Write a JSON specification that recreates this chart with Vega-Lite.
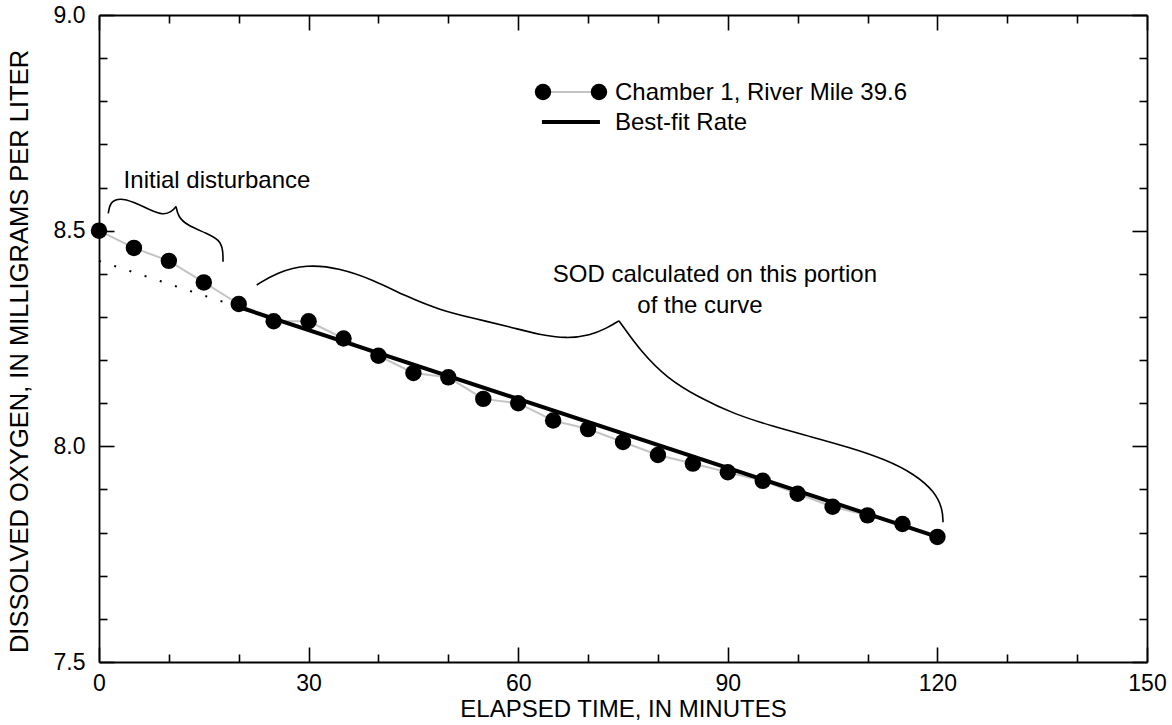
{
  "$schema": "https://vega.github.io/schema/vega-lite/v6.json",
  "width": 1048,
  "height": 647,
  "autosize": "none",
  "padding": {"left": 99, "top": 15, "right": 25, "bottom": 63},
  "config": {
    "font": "Liberation Sans",
    "view": {"stroke": null},
    "axis": {
      "grid": false,
      "domainColor": "black",
      "domainWidth": 1.8,
      "tickColor": "black",
      "tickWidth": 1.6,
      "labelColor": "black",
      "labelFontSize": 23,
      "labelFont": "Liberation Sans",
      "titleFont": "Liberation Sans",
      "titleColor": "black",
      "titleFontSize": 24,
      "titleFontWeight": "normal",
      "labelFlush": false,
      "labelOverlap": false
    }
  },
  "datasets": {
    "obs": [
      {"t": 0, "do": 8.50}, {"t": 5, "do": 8.46}, {"t": 10, "do": 8.43}, {"t": 15, "do": 8.38},
      {"t": 20, "do": 8.33}, {"t": 25, "do": 8.29}, {"t": 30, "do": 8.29}, {"t": 35, "do": 8.25},
      {"t": 40, "do": 8.21}, {"t": 45, "do": 8.17}, {"t": 50, "do": 8.16}, {"t": 55, "do": 8.11},
      {"t": 60, "do": 8.10}, {"t": 65, "do": 8.06}, {"t": 70, "do": 8.04}, {"t": 75, "do": 8.01},
      {"t": 80, "do": 7.98}, {"t": 85, "do": 7.96}, {"t": 90, "do": 7.94}, {"t": 95, "do": 7.92},
      {"t": 100, "do": 7.89}, {"t": 105, "do": 7.86}, {"t": 110, "do": 7.84}, {"t": 115, "do": 7.82},
      {"t": 120, "do": 7.79}
    ],
    "fit": [
      {"t": 20, "do": 8.323, "part": "solid"},
      {"t": 120, "do": 7.790, "part": "solid"},
      {"t": 0, "do": 8.430, "part": "dotted"},
      {"t": 20, "do": 8.323, "part": "dotted"}
    ],
    "braces": [
      {"b": "initL", "s": 1, "t": 1.33, "do": 8.540},
      {"b": "initL", "s": 2, "t": 1.60, "do": 8.567},
      {"b": "initL", "s": 3, "t": 3.01, "do": 8.576},
      {"b": "initL", "s": 4, "t": 4.91, "do": 8.567},
      {"b": "initL", "s": 5, "t": 7.30, "do": 8.548},
      {"b": "initL", "s": 6, "t": 9.20, "do": 8.536},
      {"b": "initL", "s": 7, "t": 10.41, "do": 8.544},
      {"b": "initL", "s": 8, "t": 11.02, "do": 8.556},
      {"b": "initR", "s": 1, "t": 11.02, "do": 8.556},
      {"b": "initR", "s": 2, "t": 11.35, "do": 8.532},
      {"b": "initR", "s": 3, "t": 12.55, "do": 8.513},
      {"b": "initR", "s": 4, "t": 15.41, "do": 8.494},
      {"b": "initR", "s": 5, "t": 17.30, "do": 8.478},
      {"b": "initR", "s": 6, "t": 17.75, "do": 8.455},
      {"b": "initR", "s": 7, "t": 17.75, "do": 8.428},
      {"b": "sodL", "s": 1, "t": 22.57, "do": 8.374},
      {"b": "sodL", "s": 2, "t": 25.43, "do": 8.403},
      {"b": "sodL", "s": 3, "t": 29.73, "do": 8.422},
      {"b": "sodL", "s": 4, "t": 34.49, "do": 8.413},
      {"b": "sodL", "s": 5, "t": 39.26, "do": 8.386},
      {"b": "sodL", "s": 6, "t": 44.04, "do": 8.347},
      {"b": "sodL", "s": 7, "t": 48.80, "do": 8.316},
      {"b": "sodL", "s": 8, "t": 53.53, "do": 8.297},
      {"b": "sodL", "s": 9, "t": 58.82, "do": 8.277},
      {"b": "sodL", "s": 10, "t": 63.12, "do": 8.258},
      {"b": "sodL", "s": 11, "t": 66.98, "do": 8.250},
      {"b": "sodL", "s": 12, "t": 70.27, "do": 8.257},
      {"b": "sodL", "s": 13, "t": 72.71, "do": 8.274},
      {"b": "sodL", "s": 14, "t": 74.42, "do": 8.291},
      {"b": "sodR", "s": 1, "t": 74.42, "do": 8.291},
      {"b": "sodR", "s": 2, "t": 75.10, "do": 8.276},
      {"b": "sodR", "s": 3, "t": 77.43, "do": 8.223},
      {"b": "sodR", "s": 4, "t": 81.25, "do": 8.158},
      {"b": "sodR", "s": 5, "t": 86.02, "do": 8.112},
      {"b": "sodR", "s": 6, "t": 90.74, "do": 8.076},
      {"b": "sodR", "s": 7, "t": 96.47, "do": 8.046},
      {"b": "sodR", "s": 8, "t": 102.00, "do": 8.022},
      {"b": "sodR", "s": 9, "t": 107.50, "do": 7.997},
      {"b": "sodR", "s": 10, "t": 112.50, "do": 7.970},
      {"b": "sodR", "s": 11, "t": 116.80, "do": 7.935},
      {"b": "sodR", "s": 12, "t": 119.60, "do": 7.895},
      {"b": "sodR", "s": 13, "t": 120.75, "do": 7.855},
      {"b": "sodR", "s": 14, "t": 120.80, "do": 7.824}
    ],
    "notes": [
      {"t": 16.89, "do": 8.599, "label": "Initial disturbance"},
      {"t": 88.16, "do": 8.380, "label": "SOD calculated on this portion"},
      {"t": 86.02, "do": 8.309, "label": "of the curve"}
    ],
    "legendObs": [
      {"t": 63.55, "do": 8.8215},
      {"t": 71.56, "do": 8.8215}
    ],
    "legendFit": [
      {"t": 63.4, "do": 8.752},
      {"t": 71.7, "do": 8.752}
    ],
    "legendText": [
      {"t": 73.85, "do": 8.803, "label": "Chamber 1, River Mile 39.6"},
      {"t": 73.85, "do": 8.733, "label": "Best-fit Rate"}
    ]
  },
  "layer": [
    {
      "data": {"name": "obs"},
      "mark": {"type": "line", "color": "#c4c4c4", "strokeWidth": 2},
      "encoding": {
        "x": {"field": "t", "type": "quantitative", "scale": {"domain": [0, 150], "nice": false},
          "axis": {"orient": "bottom", "values": [0, 30, 60, 90, 120, 150], "tickSize": -15, "labelPadding": 25, "title": "ELAPSED TIME, IN MINUTES", "titlePadding": 2}},
        "y": {"field": "do", "type": "quantitative", "scale": {"domain": [7.5, 9.0], "nice": false, "zero": false},
          "axis": {"orient": "left", "values": [7.5, 8.0, 8.5, 9.0], "format": ".1f", "tickSize": -15, "labelPadding": 29, "title": "DISSOLVED OXYGEN, IN MILLIGRAMS PER LITER", "titleFontSize": 25.5, "titleY": 336, "titlePadding": 21}}
      }
    },
    {
      "data": {"name": "fit"},
      "transform": [{"filter": "datum.part === 'dotted'"}],
      "mark": {"type": "line", "color": "black", "strokeWidth": 2, "strokeDash": [2, 14]},
      "encoding": {
        "x": {"field": "t", "type": "quantitative", "scale": {"domain": [0, 150], "nice": false},
          "axis": {"orient": "top", "values": [10, 20, 40, 50, 70, 80, 100, 110, 130, 140], "tickSize": -8, "labels": false, "domain": false, "title": null}},
        "y": {"field": "do", "type": "quantitative", "scale": {"domain": [7.5, 9.0], "nice": false, "zero": false},
          "axis": {"orient": "right", "values": [7.6, 7.7, 7.8, 7.9, 8.1, 8.2, 8.3, 8.4, 8.6, 8.7, 8.8, 8.9], "tickSize": -8, "labels": false, "domain": false, "title": null}}
      }
    },
    {
      "data": {"name": "fit"},
      "transform": [{"filter": "datum.part === 'solid'"}],
      "mark": {"type": "line", "color": "black", "strokeWidth": 4},
      "encoding": {
        "x": {"field": "t", "type": "quantitative", "scale": {"domain": [0, 150], "nice": false},
          "axis": {"orient": "top", "values": [0, 30, 60, 90, 120, 150], "tickSize": -15, "labels": false, "title": null}},
        "y": {"field": "do", "type": "quantitative", "scale": {"domain": [7.5, 9.0], "nice": false, "zero": false},
          "axis": {"orient": "right", "values": [7.5, 8.0, 8.5, 9.0], "tickSize": -15, "labels": false, "title": null}}
      }
    },
    {
      "data": {"name": "obs"},
      "mark": {"type": "point", "shape": "circle", "filled": true, "color": "black", "size": 270, "opacity": 1},
      "encoding": {
        "x": {"field": "t", "type": "quantitative", "scale": {"domain": [0, 150], "nice": false},
          "axis": {"orient": "bottom", "values": [10, 20, 40, 50, 70, 80, 100, 110, 130, 140], "tickSize": -8, "labels": false, "domain": false, "title": null}},
        "y": {"field": "do", "type": "quantitative", "scale": {"domain": [7.5, 9.0], "nice": false, "zero": false},
          "axis": {"orient": "left", "values": [7.6, 7.7, 7.8, 7.9, 8.1, 8.2, 8.3, 8.4, 8.6, 8.7, 8.8, 8.9], "tickSize": -8, "labels": false, "domain": false, "title": null}}
      }
    },
    {
      "data": {"name": "braces"},
      "mark": {"type": "line", "color": "black", "strokeWidth": 1.6, "interpolate": "basis"},
      "encoding": {
        "x": {"field": "t", "type": "quantitative", "scale": {"domain": [0, 150], "nice": false}, "axis": null},
        "y": {"field": "do", "type": "quantitative", "scale": {"domain": [7.5, 9.0], "nice": false, "zero": false}, "axis": null},
        "detail": {"field": "b", "type": "nominal"},
        "order": {"field": "s", "type": "quantitative"}
      }
    },
    {
      "data": {"name": "notes"},
      "mark": {"type": "text", "align": "center", "baseline": "alphabetic", "fontSize": 24, "color": "black", "font": "Liberation Sans"},
      "encoding": {
        "x": {"field": "t", "type": "quantitative", "scale": {"domain": [0, 150], "nice": false}, "axis": null},
        "y": {"field": "do", "type": "quantitative", "scale": {"domain": [7.5, 9.0], "nice": false, "zero": false}, "axis": null},
        "text": {"field": "label", "type": "nominal"}
      }
    },
    {
      "data": {"name": "legendObs"},
      "mark": {"type": "line", "color": "#c4c4c4", "strokeWidth": 2},
      "encoding": {
        "x": {"field": "t", "type": "quantitative", "scale": {"domain": [0, 150], "nice": false}, "axis": null},
        "y": {"field": "do", "type": "quantitative", "scale": {"domain": [7.5, 9.0], "nice": false, "zero": false}, "axis": null}
      }
    },
    {
      "data": {"name": "legendObs"},
      "mark": {"type": "point", "shape": "circle", "filled": true, "color": "black", "size": 270, "opacity": 1},
      "encoding": {
        "x": {"field": "t", "type": "quantitative", "scale": {"domain": [0, 150], "nice": false}, "axis": null},
        "y": {"field": "do", "type": "quantitative", "scale": {"domain": [7.5, 9.0], "nice": false, "zero": false}, "axis": null}
      }
    },
    {
      "data": {"name": "legendFit"},
      "mark": {"type": "line", "color": "black", "strokeWidth": 4},
      "encoding": {
        "x": {"field": "t", "type": "quantitative", "scale": {"domain": [0, 150], "nice": false}, "axis": null},
        "y": {"field": "do", "type": "quantitative", "scale": {"domain": [7.5, 9.0], "nice": false, "zero": false}, "axis": null}
      }
    },
    {
      "data": {"name": "legendText"},
      "mark": {"type": "text", "align": "left", "baseline": "alphabetic", "fontSize": 24, "color": "black", "font": "Liberation Sans"},
      "encoding": {
        "x": {"field": "t", "type": "quantitative", "scale": {"domain": [0, 150], "nice": false}, "axis": null},
        "y": {"field": "do", "type": "quantitative", "scale": {"domain": [7.5, 9.0], "nice": false, "zero": false}, "axis": null},
        "text": {"field": "label", "type": "nominal"}
      }
    }
  ],
  "resolve": {"axis": {"x": "independent", "y": "independent"}}
}
